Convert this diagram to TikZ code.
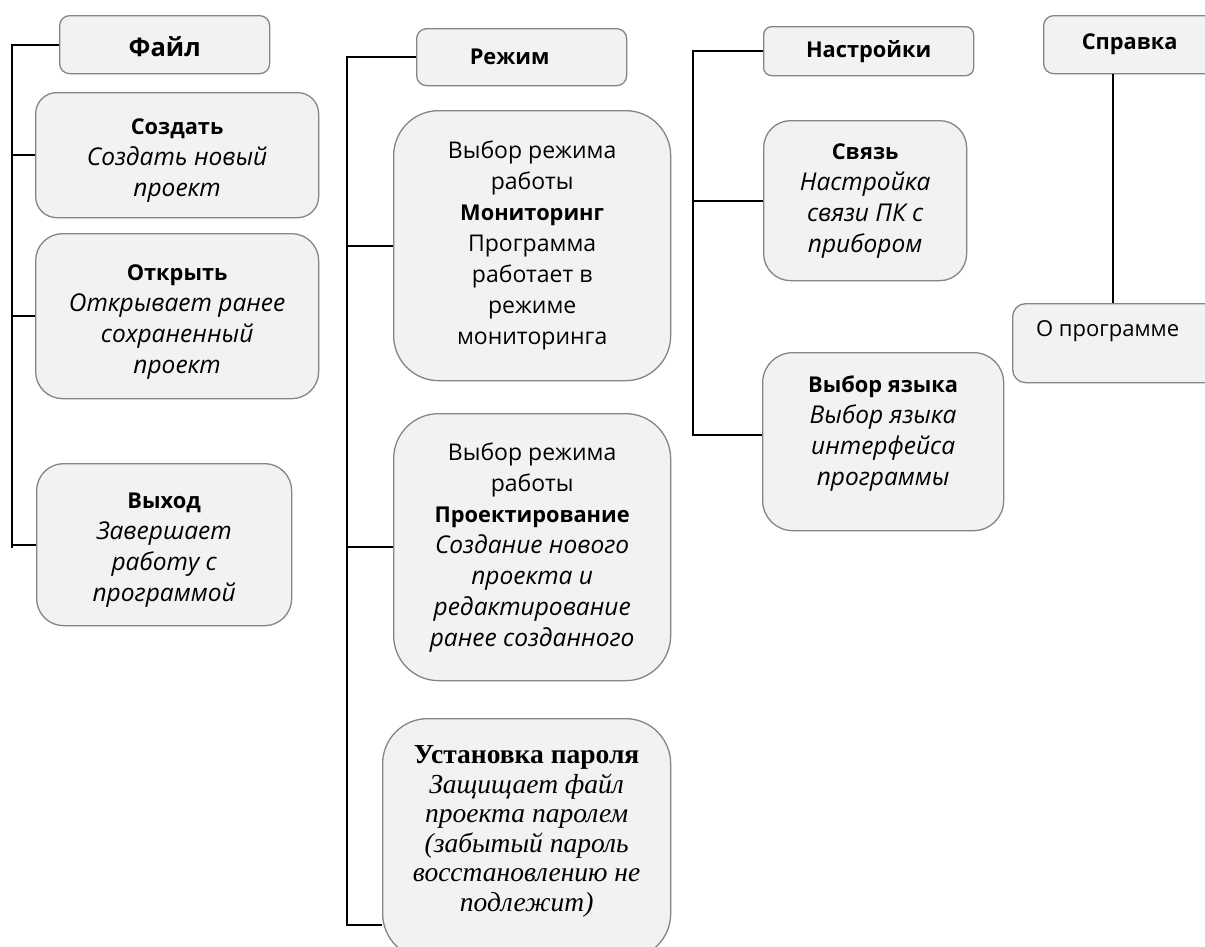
\documentclass[tikz,border=0pt]{standalone}
\usepackage{fontspec}
\setmainfont{Open Sans}
\newfontfamily\tnr{Liberation Serif}
\definecolor{boxfill}{HTML}{F2F2F2}
\definecolor{boxline}{HTML}{858585}
\newcommand\itx[1]{{\fontsize{24.5}{31}\selectfont\itshape #1}}
\newcommand\bfx[1]{{\fontsize{21.8}{31}\selectfont\bfseries #1}}
\newcommand\lowr{\rule{0pt}{27pt}}
\tikzset{
  box/.style={draw=boxline, fill=boxfill, line width=1.3pt, align=center,
    inner sep=0pt, anchor=north west,
    font=\fontsize{23}{31}\selectfont},
  conn/.style={line width=1.8pt, black},
}
\begin{document}
\begin{tikzpicture}[x=1pt,y=-1pt]
\useasboundingbox (0,0) rectangle (1205,946);
\clip (0,0) rectangle (1205,946);
\fill[white] (0,0) rectangle (1205,946);
% bus coordinates
\coordinate (busF) at (12,0);
\coordinate (busR) at (347,0);
\coordinate (busN) at (693,0);
\coordinate (busH) at (1113,0);

% Файл column
\node[box, minimum width=210, minimum height=58, rounded corners=10] (file) at (59,15)
  {\fontsize{25.5}{30}\selectfont\bfseries\rule{0pt}{24pt}Файл};
\node[box, minimum width=283, minimum height=125, rounded corners=21] (create) at (35,92)
  {\lowr\bfx{Создать}\\ \itx{Создать новый}\\ \itx{проект}};
\node[box, minimum width=283, minimum height=165, rounded corners=27] (open) at (35,233)
  {\lowr\bfx{Открыть}\\ \itx{Открывает ранее}\\ \itx{сохраненный}\\ \itx{проект}};
\node[box, minimum width=255, minimum height=162, rounded corners=27] (exit) at (36,463)
  {\lowr\bfx{Выход}\\ \itx{Завершает}\\ \itx{работу с}\\ \itx{программой}};

% Режим column
\node[box, minimum width=210, minimum height=57, rounded corners=10] (mode) at (416,28)
  {\bfx{Режим}\hspace*{24pt}};
\node[box, minimum width=277, minimum height=270, rounded corners=45] (mon) at (393,110)
  {Выбор режима\\ работы\\ \bfx{Мониторинг}\\ Программа\\ работает в\\ режиме\\ мониторинга};
\node[box, minimum width=277, minimum height=267, rounded corners=45] (proj) at (393,413)
  {Выбор режима\\ работы\\ \bfx{Проектирование}\\ \itx{Создание нового}\\ \itx{проекта и}\\ \itx{редактирование}\\ \itx{ранее созданного}};
\node[box, minimum width=288, minimum height=240, rounded corners=45, text depth=20pt,
  font=\tnr\fontsize{27.5}{29.5}\selectfont] (pw) at (382,718)
  {\textbf{Установка пароля}\\ \textit{Защищает файл}\\ \textit{проекта паролем}\\ \textit{(забытый пароль}\\ \textit{восстановлению не}\\ \textit{подлежит)}};

% Настройки column
\node[box, minimum width=210, minimum height=49, rounded corners=8] (set) at (763,26)
  {\bfx{Настройки}};
\node[box, minimum width=203, minimum height=160, rounded corners=27] (link) at (763,120)
  {\bfx{Связь}\\ \itx{Настройка}\\ \itx{связи ПК с}\\ \itx{прибором}};
\node[box, minimum width=241, minimum height=178, rounded corners=30, text depth=22pt] (lang) at (762,352)
  {\bfx{Выбор языка}\\ \itx{Выбор языка}\\ \itx{интерфейса}\\ \itx{программы}};

% Справка column
\node[box, minimum width=172, minimum height=58, rounded corners=10] (help) at (1043,15)
  {\bfx{Справка}};
\node[box, minimum width=218, minimum height=79, rounded corners=13, text depth=30pt,
  font=\fontsize{22}{31}\selectfont] (about) at (1012,303)
  {О программе\hspace*{28pt}};

% connectors
\coordinate (fend) at (12,548);
\draw[conn] (file.west) -- (file.west -| busF) -- (fend);
\draw[conn] (create.west -| busF) -- (create.west);
\draw[conn] (open.west -| busF) -- (open.west);
\draw[conn] (exit.west -| busF) -- (exit.west);

\coordinate (pwin) at (382,925);
\draw[conn] (mode.west) -- (mode.west -| busR) -- (pwin -| busR) -- (pwin);
\draw[conn] (mon.west -| busR) -- (mon.west);
\draw[conn] (proj.west -| busR) -- (proj.west);

\coordinate (langin) at (762,435);
\draw[conn] (set.west) -- (set.west -| busN) -- (langin -| busN) -- (langin);
\draw[conn] (link.west -| busN) -- (link.west);

\draw[conn] (help.south -| busH) -- (about.north -| busH);
\end{tikzpicture}
\end{document}
